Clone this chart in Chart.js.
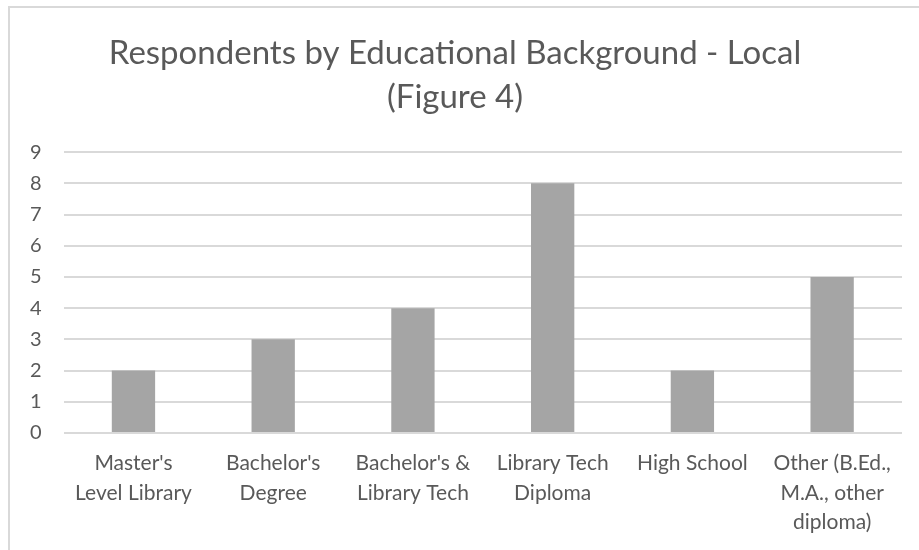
<!DOCTYPE html>
<html>
<head>
<meta charset="utf-8">
<script src="https://cdn.jsdelivr.net/npm/chart.js@4.4.1/dist/chart.umd.min.js"></script>
<style>
    html, body { margin: 0; padding: 0; background: #fff; }
    #frame {
        position: absolute; left: 8px; top: 6px; right: 0; bottom: 0;
        border-left: 2px solid #d9d9d9; border-top: 2px solid #d9d9d9;
    }
    #wrap { position: absolute; left: 0; top: 0; width: 919px; height: 550px; }
</style>
</head>
<body>
<div id="frame"></div>
<div id="wrap"><canvas id="chart-education"></canvas></div>
<script>
// Respondents by educational background (local)
const categories = [
    ["Master's", 'Level Library'],
    ["Bachelor's", 'Degree'],
    ["Bachelor's &", 'Library Tech'],
    ['Library Tech', 'Diploma'],
    'High School',
    ['Other (B.Ed.,', 'M.A., other', 'diploma)']
];
const respondents = [2, 3, 4, 8, 2, 5];
const yTicks = [0, 1, 2, 3, 4, 5, 6, 7, 8, 9];

const textColor = '#595959';
const gridColor = '#d9d9d9';
const barColor = '#a5a5a5';
const fontFamily = 'Lato, "Open Sans", sans-serif';

const ctx = document.getElementById('chart-education').getContext('2d');

new Chart(ctx, {
    type: 'bar',
    data: {
        labels: categories,
        datasets: [{
            label: 'Respondents',
            data: respondents,
            backgroundColor: barColor,
            categoryPercentage: 1,
            barPercentage: 0.31
        }]
    },
    options: {
        responsive: true,
        maintainAspectRatio: false,
        animation: false,
        layout: {
            padding: { top: 31, right: 17, bottom: 0, left: 8 }
        },
        scales: {
            x: {
                grid: { display: false },
                border: { display: false },
                // fixed axis height so the plot bottom lands where the original has it
                afterFit: (axis) => { axis.height = 117; },
                ticks: {
                    color: textColor,
                    font: { family: fontFamily, size: 21, lineHeight: 1.4 },
                    padding: 8,
                    maxRotation: 0,
                    autoSkip: false
                }
            },
            y: {
                min: 0,
                max: 9,
                afterBuildTicks: (axis) => {
                    axis.ticks = yTicks.map(v => ({ value: v }));
                },
                grid: { color: gridColor, lineWidth: 2, drawTicks: false },
                border: { display: false },
                ticks: {
                    color: textColor,
                    font: { family: fontFamily, size: 20 },
                    padding: 22
                }
            }
        },
        plugins: {
            legend: { display: false },
            tooltip: { enabled: false },
            title: {
                display: true,
                text: ['Respondents by Educational Background - Local', '(Figure 4)'],
                color: textColor,
                font: { family: fontFamily, size: 33, weight: 'normal', lineHeight: 1.35 },
                padding: { top: 0, bottom: 32 }
            }
        }
    }
});
</script>
</body>
</html>
